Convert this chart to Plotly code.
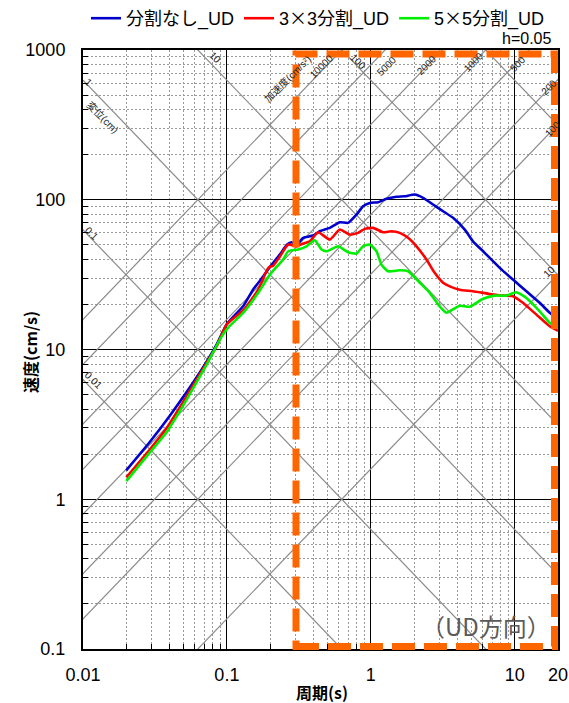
import numpy as np
import plotly.graph_objects as go

# ---------------- data ----------------
period_none = [0.020, 0.029, 0.040, 0.065, 0.085, 0.0995, 0.130, 0.152, 0.179, 0.199, 0.233, 0.262,
               0.281, 0.305, 0.339, 0.397, 0.442, 0.519, 0.609, 0.696, 0.796, 0.884, 0.984, 1.124,
               1.285, 1.508, 1.722, 2.021, 2.307, 2.708, 3.18, 3.73, 4.50, 5.13, 6.03, 7.87, 9.73,
               12.06, 14.92, 17.5, 20.0]
vel_none = [1.56, 2.40, 3.60, 7.05, 10.8, 14.7, 19.5, 25.1, 30.8, 35.6, 43.0, 50.2,
            52.0, 50.2, 55.7, 57.7, 61.6, 64.9, 70.8, 70.1, 79.6, 90.5, 95.3, 96.2,
            101.4, 104.6, 105.5, 108.3, 103.0, 92.9, 83.8, 75.7, 63.2, 52.8, 45.3, 35.1, 29.3,
            24.5, 20.5, 17.6, 16.0]

period_3x3 = [0.020, 0.029, 0.0381, 0.0525, 0.0723, 0.0848, 0.0995, 0.130, 0.165, 0.194, 0.210,
              0.233, 0.267, 0.305, 0.339, 0.377, 0.431, 0.519, 0.609, 0.715, 0.816, 0.909, 1.038,
              1.217, 1.393, 1.59, 1.816, 2.077, 2.437, 2.78, 3.18, 3.54, 4.15, 5.13, 6.71, 8.3,
              9.73, 11.4, 14.15, 17.5, 20.0]
vel_3x3 = [1.40, 2.14, 2.98, 4.87, 8.14, 10.5, 14.7, 18.3, 25.1, 35.1, 36.3,
           41.6, 50.2, 48.9, 51.0, 52.8, 60.7, 54.2, 63.2, 58.6, 60.1, 63.9, 64.9,
           60.7, 61.6, 60.1, 55.7, 48.9, 39.9, 32.5, 27.9, 26.4, 25.1, 24.5, 23.5, 22.9,
           22.7, 20.5, 17.1, 14.3, 13.3]

period_5x5 = [0.020, 0.029, 0.0381, 0.0525, 0.0723, 0.0919, 0.102, 0.130, 0.165, 0.199, 0.221,
              0.246, 0.267, 0.313, 0.358, 0.408, 0.455, 0.4925, 0.593, 0.696, 0.796, 0.884,
              0.984, 1.095, 1.186, 1.319, 1.59, 1.816, 2.19, 2.57, 3.01, 3.36, 4.15, 4.87,
              6.03, 7.26, 8.76, 10.27, 12.06, 14.92, 17.5, 20.0]
vel_5x5 = [1.32, 2.04, 2.80, 4.63, 7.93, 12.2, 14.0, 17.6, 23.9, 31.6, 35.6,
           39.9, 45.3, 46.5, 48.9, 53.6, 46.5, 45.3, 48.9, 44.6, 43.7, 48.9,
           50.2, 45.3, 36.9, 33.3, 33.8, 33.3, 27.9, 23.9, 19.4, 17.6, 19.6, 19.3,
           21.8, 22.9, 22.9, 24.1, 22.1, 18.0, 15.1, 14.0]

series_names = ["分割なし_UD", "3<span style='font-family:Noto Sans CJK JP'>×</span>3分割_UD",
                "5<span style='font-family:Noto Sans CJK JP'>×</span>5分割_UD"]
series_colors = ["#0000CC", "#FF0000", "#00EE00"]

x_tickvals = [0.01, 0.1, 1, 10, 20]
x_ticktext = ["0.01", "0.1", "1", "10", "20"]
y_tickvals = [0.1, 1, 10, 100, 1000]
y_ticktext = ["0.1", "1", "10", "100", "1000"]

# tripartite guide lines
disp_values = [0.01, 0.1, 1, 10, 100, 1000]                       # cm
acc_values = [10, 100, 200, 500, 1000, 2000, 5000, 10000]         # cm/s^2

# ---------------- figure ----------------
W, H = 569, 703
ML, MR, MT, MB = 83, 11, 50, 54
PW, PH = W - ML - MR, H - MT - MB

def paper(px, py):
    return (px - ML) / PW, (H - MB - py) / PH

fig = go.Figure()

T_line = np.array([0.001, 100.0])
for d in disp_values:
    fig.add_trace(go.Scatter(x=T_line, y=2 * np.pi * d / T_line, mode="lines",
                             line=dict(color="#8a8a8a", width=1.2),
                             hoverinfo="skip", showlegend=False))
for a in acc_values:
    fig.add_trace(go.Scatter(x=T_line, y=a * T_line / (2 * np.pi), mode="lines",
                             line=dict(color="#8a8a8a", width=1.2),
                             hoverinfo="skip", showlegend=False))

for per, vel, name, col in zip([period_none, period_3x3, period_5x5],
                               [vel_none, vel_3x3, vel_5x5], series_names, series_colors):
    fig.add_trace(go.Scatter(x=per, y=vel, mode="lines", name=name,
                             line=dict(color=col, width=2.6, shape="spline", smoothing=0.5)))

font_main = "Liberation Sans, Arial, Noto Sans CJK JP, sans-serif"
font_jp = "Noto Sans CJK JP, Liberation Sans, sans-serif"

minor_x = [m * 10.0 ** e for e in (-2, -1, 0) for m in range(2, 10)]
minor_y = [m * 10.0 ** e for e in (-1, 0, 1, 2) for m in range(2, 10)]

axis_common = dict(type="log", showline=True, linecolor="black", linewidth=2, mirror=True,
                   showgrid=True, gridcolor="black", gridwidth=1, zeroline=False,
                   ticks="", tickfont=dict(family=font_main, size=18, color="black"))

fig.update_xaxes(**axis_common, range=[-2, np.log10(20)], tickmode="array",
                 tickvals=x_tickvals, ticktext=x_ticktext, ticklabelstandoff=8,
                 minor=dict(tickmode="array", tickvals=minor_x, showgrid=True,
                            gridcolor="#9a9a9a", griddash="2px,2px", gridwidth=1,
                            ticks="inside", ticklen=5, tickcolor="black", tickwidth=1))
fig.update_yaxes(**axis_common, range=[-1, 3], tickmode="array",
                 tickvals=y_tickvals, ticktext=y_ticktext, ticklabelstandoff=12,
                 minor=dict(tickmode="array", tickvals=minor_y, showgrid=True,
                            gridcolor="#9a9a9a", griddash="2px,2px", gridwidth=1,
                            ticks="inside", ticklen=5, tickcolor="black", tickwidth=1))

annotations = []
guide_labels = [
    ("10", 215, 58, 45), ("加速度(cm/s²)", 287, 79, -45), ("10000", 321, 66, -45),
    ("100", 358, 61, 45), ("5000", 386, 66, -45), ("2000", 426, 65, -45),
    ("1000", 473, 62, -45), ("500", 517, 64, -45), ("200", 549, 88, -45),
    ("100", 552, 129, -45), ("10", 549, 271, -45), ("1", 89, 82, 45),
    ("変位(cm)", 103, 117, 45), ("0.1", 92, 233, 45), ("0.01", 94, 380, 45),
]
for txt, px, py, ang in guide_labels:
    xp, yp = paper(px, py)
    annotations.append(dict(text=txt, x=xp, y=yp, xref="paper", yref="paper", showarrow=False,
                            textangle=ang, xanchor="center", yanchor="middle",
                            font=dict(family=font_main, size=10, color="#222222")))

xp, yp = paper(553, 38)
annotations.append(dict(text="h=0.05", x=xp, y=yp, xref="paper", yref="paper", showarrow=False,
                        xanchor="right", yanchor="middle",
                        font=dict(family=font_main, size=16, color="black")))
xp, yp = paper(486, 625)
annotations.append(dict(text="（UD方向）", x=xp, y=yp, xref="paper", yref="paper", showarrow=False,
                        xanchor="center", yanchor="middle",
                        font=dict(family=font_jp, size=24, color="#5a5a5a")))
xp, yp = paper(322, 692)
annotations.append(dict(text="<b>周期(s)</b>", x=xp, y=yp, xref="paper", yref="paper",
                        showarrow=False, xanchor="center", yanchor="middle",
                        font=dict(family=font_jp, size=16, color="black")))
xp, yp = paper(30, 352)
annotations.append(dict(text="<b>速度(cm/s)</b>", x=xp, y=yp, xref="paper", yref="paper",
                        showarrow=False, xanchor="center", yanchor="middle", textangle=-90,
                        font=dict(family=font_jp, size=16, color="black")))

bx0, by0 = paper(296, 646.5)
bx1, by1 = paper(554.5, 54)
shapes = [dict(type="rect", xref="paper", yref="paper", x0=bx0, y0=by0, x1=bx1, y1=by1,
               line=dict(color="#FF6600", width=7, dash="23px,9px"), layer="above")]

lx, ly = paper(86, 0)
fig.update_layout(
    width=W, height=H, margin=dict(l=ML, r=MR, t=MT, b=MB, autoexpand=False),
    paper_bgcolor="white", plot_bgcolor="white",
    font=dict(family=font_main, size=16, color="black"),
    legend=dict(orientation="h", x=lx, y=ly, xanchor="left", yanchor="top",
                xref="paper", yref="paper", bgcolor="rgba(0,0,0,0)",
                font=dict(family=font_main, size=18, color="black"),
                itemwidth=30, tracegroupgap=0),
    annotations=annotations, shapes=shapes, showlegend=True,
)

fig.write_html("out.html", config={"displayModeBar": False},
               post_script="document.body.style.margin='0px';")
